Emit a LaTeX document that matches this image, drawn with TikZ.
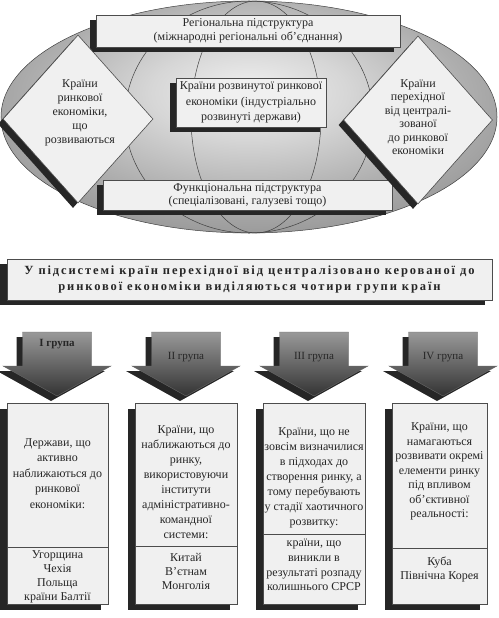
\documentclass[tikz,border=0pt]{standalone}
\usepackage{fontspec}
\setmainfont{Liberation Serif}
\usetikzlibrary{shapes.geometric,shadows}
\pgfdeclareradialshading{globeshade}{\pgfpoint{0bp}{6bp}}{color(0bp)=(black!6); color(10bp)=(black!16); color(22bp)=(black!32); color(36bp)=(black!47); color(50bp)=(black!60); color(72bp)=(black!64)}
\begin{document}
\begin{tikzpicture}[x=1pt,y=-1pt,
  box/.style={draw=black!70, fill=black!6, line width=0.6pt, inner sep=0pt, align=center, text=black!85},
  shadowbox/.style={drop shadow={shadow xshift=-6pt, shadow yshift=-5pt, opacity=1, fill=black!85}},
  diam/.style={diamond, draw=black!70, fill=black!6, line width=0.6pt, inner sep=0pt},
  shadowdiam/.style={drop shadow={shadow xshift=-5pt, shadow yshift=-5pt, opacity=1, fill=black!85}},
  txt/.style={align=center, inner sep=0pt, text=black!85},
  meridian/.style={draw=black!75, line width=0.5pt},
  arrowshade/.style={draw=black!60, line width=0.4pt, top color=black!40, middle color=black!4, bottom color=black!80},
  arrowshadow/.style={fill=black!85},
]
\useasboundingbox (0,0) rectangle (498,618);

% globe
\shade[shading=globeshade] (249,117) ellipse [x radius=248pt, y radius=116pt];
\draw[meridian] (249,117) ellipse [x radius=248pt, y radius=116pt];
\draw[meridian] (249,117) ellipse [x radius=124pt, y radius=116pt];
\draw[meridian] (256,117) ellipse [x radius=65pt, y radius=116pt];

% boxes on the globe
\node[box, shadowbox, minimum width=304pt, minimum height=32pt, font=\fontsize{12}{14.5}\selectfont] (reg) at (248,31)
  {Регіональна підструктура\\(міжнародні регіональні об’єднання)};
\node[box, shadowbox, minimum width=150pt, minimum height=49pt, font=\fontsize{12}{15.5}\selectfont] (dev) at (251,102.5)
  {Країни розвинутої ринкової\\економіки (індустріально\\розвинуті держави)};
\node[box, shadowbox, minimum width=289pt, minimum height=30pt, font=\fontsize{12}{13}\selectfont] (fun) at (247.5,195)
  {Функціональна підструктура\\(спеціалізовані, галузеві тощо)};

\node[diam, shadowdiam, minimum width=150pt, minimum height=168pt] (ld) at (78,119) {};
\node[txt, font=\fontsize{12}{14}\selectfont] (ldt) at (80,113)
  {Країни\\ринкової\\економіки,\\що\\розвиваються};
\node[diam, shadowdiam, minimum width=149pt, minimum height=168pt] (rd) at (418,120) {};
\node[txt, font=\fontsize{12}{13.5}\selectfont] (rdt) at (418,117)
  {Країни\\перехідної\\від централі-\\зованої\\до ринкової\\економіки};

% heading
\node[box, drop shadow={shadow xshift=-7pt, shadow yshift=-5pt, opacity=1, fill=black!85},
  minimum width=485pt, minimum height=41pt,
  font=\fontsize{12.5}{16}\selectfont\bfseries\addfontfeatures{LetterSpace=15}] (head) at (249.5,279.5)
  {У підсистемі країн перехідної від централізовано керованої до\\ринкової економіки виділяються чотири групи країн};

% group arrows
\foreach \cx/\nm in {57/g1,186/g2,314/g3,443/g4}{
  \fill[arrowshadow, shift={(-6,5)}] (\cx-34.5,332) -- (\cx+34.5,332) -- (\cx+34.5,366) -- (\cx+54,366) -- (\cx,396) -- (\cx-54,366) -- (\cx-34.5,366) -- cycle;
  \shade[arrowshade] (\cx-34.5,332) -- (\cx+34.5,332) -- (\cx+34.5,366) -- (\cx+54,366) -- (\cx,396) -- (\cx-54,366) -- (\cx-34.5,366) -- cycle;
  \coordinate (\nm) at (\cx,332);
}
\node[txt, font=\fontsize{11}{13}\selectfont\bfseries] (g1t) at (57,344) {І група};
\node[txt, font=\fontsize{11}{13}\selectfont] (g2t) at (186,357) {ІІ група};
\node[txt, font=\fontsize{11}{13}\selectfont] (g3t) at (314,357) {ІІІ група};
\node[txt, font=\fontsize{11}{13}\selectfont] (g4t) at (443,357) {ІV група};

% bottom boxes
\tikzset{gbox/.style={box, drop shadow={shadow xshift=-7pt, shadow yshift=-6pt, opacity=1, fill=black!85}, minimum height=201pt},
  up/.style={txt, font=\fontsize{12}{15.5}\selectfont},
  low/.style={txt, font=\fontsize{12}{14}\selectfont}}
\node[gbox, minimum width=101pt] (b1) at (57.5,503.5) {};
\node[gbox, minimum width=102pt] (b2) at (186,503.5) {};
\node[gbox, minimum width=102pt] (b3) at (314,503.5) {};
\node[gbox, minimum width=95pt] (b4) at (439.5,503.5) {};
\draw[draw=black!70, line width=0.6pt] (b1.west |- 0,547) -- (b1.east |- 0,547);
\draw[draw=black!70, line width=0.6pt] (b2.west |- 0,546) -- (b2.east |- 0,546);
\draw[draw=black!70, line width=0.6pt] (b3.west |- 0,534) -- (b3.east |- 0,534);
\draw[draw=black!70, line width=0.6pt] (b4.west |- 0,548) -- (b4.east |- 0,548);

\node[up] (b1u) at (57.5,473.5) {Держави, що\\активно\\наближаються до\\ринкової\\економіки:};
\node[low] (b1l) at (57.5,577) {Угорщина\\Чехія\\Польща\\країни Балтії};
\node[up, font=\fontsize{12}{15}\selectfont] (b2u) at (186,482.5) {Країни, що\\наближаються до\\ринку,\\використовуючи\\інститути\\адміністративно-\\командної\\системи:};
\node[low] (b2l) at (186,571) {Китай\\В’єтнам\\Монголія};
\node[up, font=\fontsize{12}{15}\selectfont] (b3u) at (314,478) {Країни, що не\\зовсім визначилися\\в підходах до\\створення ринку, а\\тому перебувають\\у стадії хаотичного\\розвитку:};
\node[low, font=\fontsize{12}{14.7}\selectfont] (b3l) at (314,565) {країни, що\\виникли в\\результаті розпаду\\колишнього СРСР};
\node[up, font=\fontsize{12}{14.5}\selectfont] (b4u) at (439.5,471.5) {Країни, що\\намагаються\\розвивати окремі\\елементи ринку\\під впливом\\об’єктивної\\реальності:};
\node[low] (b4l) at (439.5,569) {Куба\\Північна Корея};
\end{tikzpicture}
\end{document}
